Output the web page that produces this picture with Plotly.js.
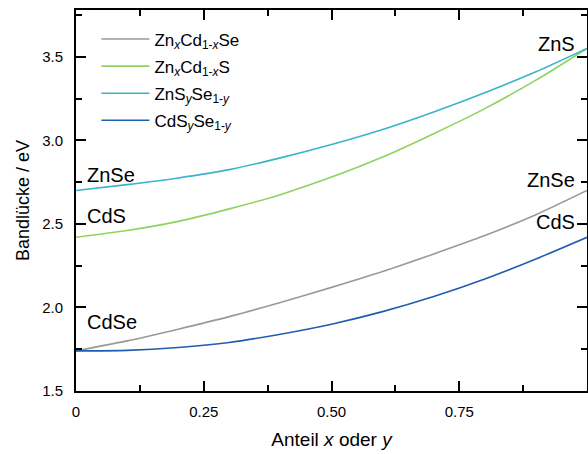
<!DOCTYPE html>
<html><head><meta charset="utf-8">
<script src="https://cdn.plot.ly/plotly-3.0.1.min.js"></script>
<style>body{margin:0;padding:0;background:#fff}#c{width:588px;height:454px}</style>
</head><body><div id="c"></div>
<script>
const xs = [0,0.1,0.2,0.3,0.4,0.5,0.6,0.7,0.8,0.9,1.0];
const znCdSe = [1.74,1.80,1.87,1.945,2.03,2.12,2.215,2.32,2.43,2.555,2.70];
const znCdS  = [2.42,2.46,2.515,2.59,2.675,2.78,2.90,3.04,3.19,3.36,3.55];
const znSSe  = [2.70,2.735,2.775,2.825,2.895,2.975,3.065,3.17,3.285,3.41,3.55];
const cdSSe  = [1.74,1.743,1.76,1.79,1.84,1.90,1.975,2.065,2.17,2.29,2.42];
const names = ['Zn<sub><i>x</i></sub>Cd<sub>1-<i>x</i></sub>Se','Zn<sub><i>x</i></sub>Cd<sub>1-<i>x</i></sub>S','ZnS<sub><i>y</i></sub>Se<sub>1-<i>y</i></sub>','CdS<sub><i>y</i></sub>Se<sub>1-<i>y</i></sub>'];
const series = [znCdSe, znCdS, znSSe, cdSSe];
const colors = ['#999999','#8fd35f','#3ab4c8','#1f5db0'];
const xTickVals = [0,0.25,0.5,0.75];
const xTickText = ['0','0.25','0.50','0.75'];
const labelsLeft = [{t:'ZnSe',y:2.79},{t:'CdS',y:2.55},{t:'CdSe',y:1.91}];
const labelsRight = [{t:'ZnS',y:3.575},{t:'ZnSe',y:2.76},{t:'CdS',y:2.51}];

const traces = series.map((s,i)=>({x:xs,y:s,type:'scatter',mode:'lines',name:names[i],
  line:{color:colors[i],width:1.6,shape:'spline',smoothing:0.7},legendgroup:'g'+i}));

const F = 'Liberation Sans, Arial, sans-serif';
const ann = [];
labelsLeft.forEach(l=>ann.push({x:0.018,y:l.y,xref:'x',yref:'y',text:l.t,showarrow:false,xanchor:'left',yanchor:'middle',font:{family:F,size:20,color:'#000'}}));
labelsRight.forEach(l=>ann.push({x:0.98,y:l.y,xref:'x',yref:'y',text:l.t,showarrow:false,xanchor:'right',yanchor:'middle',font:{family:F,size:20,color:'#000'}}));

const layout = {
  width:588,height:454,
  margin:{l:76,r:1,t:10,b:63},
  paper_bgcolor:'#fff',plot_bgcolor:'#fff',
  font:{family:F,size:15,color:'#000'},
  showlegend:true,
  legend:{x:0.04,y:0.97,xanchor:'left',yanchor:'top',font:{family:F,size:17},bgcolor:'rgba(0,0,0,0)',tracegroupgap:2,traceorder:'grouped',itemwidth:48},
  xaxis:{range:[0,1.0],tickmode:'array',tickvals:xTickVals,ticktext:xTickText,
    ticks:'inside',ticklen:10,tickwidth:2,tickcolor:'#000',showline:true,linewidth:2,linecolor:'#000',mirror:'allticks',
    showgrid:false,zeroline:false,ticklabelstandoff:6,
    minor:{ticks:'inside',ticklen:6,tickwidth:2,tickcolor:'#000',dtick:0.125,tick0:0,showgrid:false},
    title:{text:'Anteil <i>x</i> oder <i>y</i>',font:{family:F,size:19},standoff:14},tickfont:{size:15}},
  yaxis:{range:[1.5,3.78],dtick:0.5,tick0:1.5,tickformat:'.1f',
    ticks:'inside',ticklen:10,tickwidth:2,tickcolor:'#000',showline:true,linewidth:2,linecolor:'#000',mirror:'allticks',
    showgrid:false,zeroline:false,ticklabelstandoff:8,
    minor:{ticks:'inside',ticklen:6,tickwidth:2,tickcolor:'#000',dtick:0.25,showgrid:false},
    title:{text:'Bandlücke / eV',font:{family:F,size:18},standoff:8},tickfont:{size:15}},
  annotations:ann
};
Plotly.newPlot('c',traces,layout,{displayModeBar:false,staticPlot:true});
</script></body></html>
